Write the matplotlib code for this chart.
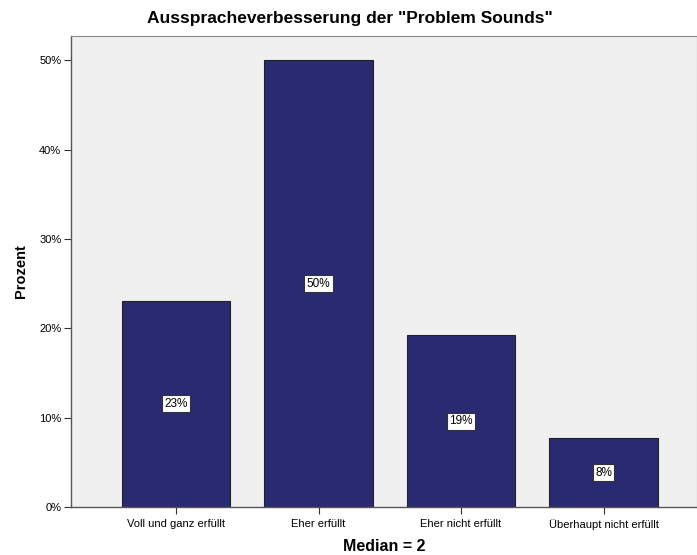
import matplotlib.pyplot as plt
from matplotlib.ticker import FuncFormatter

plt.rcParams['font.family'] = ['Liberation Sans', 'DejaVu Sans']

# data (N = 26)
categories = ['Voll und ganz erfüllt', 'Eher erfüllt', 'Eher nicht erfüllt', 'Überhaupt nicht erfüllt']
percent = [23.1, 50.0, 19.2, 7.7]
bar_labels = ['23%', '50%', '19%', '8%']

fig = plt.figure(figsize=(6.97, 5.55), dpi=100)
ax = fig.add_axes([0.102, 0.0865, 0.898, 0.8486])
ax.set_facecolor('#f0f0f0')

x = range(len(categories))
bars = ax.bar(x, percent, width=0.76, color='#2a2a72', edgecolor='#222222', linewidth=0.8)

# value boxes in the middle of each bar
for b, lab in zip(bars, bar_labels):
    ax.text(b.get_x() + b.get_width() / 2, b.get_height() / 2, lab,
            ha='center', va='center', fontsize=8.5,
            bbox=dict(boxstyle='square,pad=0.2', fc='white', ec='#333333', lw=0.8))

ax.set_xlim(-0.737, 3.656)
ax.set_ylim(0, 52.7)
ax.set_yticks([0, 10, 20, 30, 40, 50])
ax.yaxis.set_major_formatter(FuncFormatter(lambda v, p: '%d%%' % v))
ax.set_xticks(list(x))
ax.set_xticklabels(categories)
ax.tick_params(axis='both', labelsize=8, color='#333333', length=5, width=0.8)
ax.tick_params(axis='x', pad=4)
ax.tick_params(axis='y', pad=2)

for s in ['left', 'bottom']:
    ax.spines[s].set_color('#555555')
    ax.spines[s].set_linewidth(1.0)
for s in ['top', 'right']:
    ax.spines[s].set_color('#888888')
    ax.spines[s].set_linewidth(0.8)

ax.set_ylabel('Prozent', fontsize=10.5, fontweight='bold', labelpad=8)
ax.set_xlabel('Median = 2', fontsize=11.5, fontweight='bold', labelpad=6)
fig.text(0.502, 0.967, 'Ausspracheverbesserung der "Problem Sounds"',
         ha='center', va='center', fontsize=12.5, fontweight='bold')

fig.savefig('out.png', dpi=100)
